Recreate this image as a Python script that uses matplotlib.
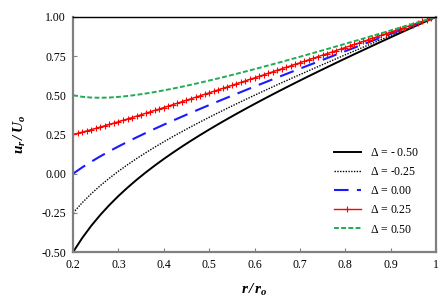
import matplotlib
matplotlib.use('Agg')
import matplotlib.pyplot as plt
import numpy as np

plt.rcParams['font.family'] = 'Liberation Serif'
plt.rcParams['mathtext.fontset'] = 'custom'
plt.rcParams['mathtext.rm'] = 'Liberation Serif'
plt.rcParams['mathtext.it'] = 'Liberation Serif:italic'
plt.rcParams['mathtext.bf'] = 'Liberation Serif:bold:italic'

# r/r_o sampling
r_coarse = np.round(np.arange(0.20, 1.001, 0.02), 2)
r_fine = np.round(np.arange(0.20, 1.001, 0.01), 2)

u_m050 = [-0.5000, -0.4108, -0.3326, -0.2630, -0.2000, -0.1424, -0.0891, -0.0393, 0.0074, 0.0516,
          0.0938, 0.1340, 0.1727, 0.2101, 0.2462, 0.2813, 0.3154, 0.3487, 0.3813, 0.4131,
          0.4444, 0.4752, 0.5055, 0.5353, 0.5647, 0.5938, 0.6225, 0.6508, 0.6789, 0.7068,
          0.7344, 0.7617, 0.7889, 0.8158, 0.8426, 0.8692, 0.8957, 0.9219, 0.9481, 0.9741, 1.0000]
u_m025 = [-0.2500, -0.1855, -0.1281, -0.0762, -0.0286, 0.0156, 0.0570, 0.0961, 0.1333, 0.1689,
          0.2031, 0.2362, 0.2682, 0.2993, 0.3297, 0.3594, 0.3885, 0.4170, 0.4451, 0.4727,
          0.5000, 0.5269, 0.5535, 0.5798, 0.6059, 0.6317, 0.6573, 0.6827, 0.7079, 0.7329,
          0.7578, 0.7825, 0.8071, 0.8316, 0.8560, 0.8802, 0.9044, 0.9284, 0.9523, 0.9762, 1.0000]
u_000 = [0.0000, 0.0398, 0.0764, 0.1106, 0.1429, 0.1736, 0.2031, 0.2316, 0.2593, 0.2862,
         0.3125, 0.3383, 0.3636, 0.3886, 0.4132, 0.4375, 0.4615, 0.4853, 0.5089, 0.5323,
         0.5556, 0.5786, 0.6016, 0.6244, 0.6471, 0.6696, 0.6921, 0.7145, 0.7368, 0.7591,
         0.7813, 0.8034, 0.8254, 0.8474, 0.8693, 0.8912, 0.9130, 0.9348, 0.9566, 0.9783, 1.0000]
u_p025 = [0.2500, 0.2574, 0.2651, 0.2729, 0.2809, 0.2891, 0.2974, 0.3058, 0.3143, 0.3229,
          0.3316, 0.3404, 0.3492, 0.3581, 0.3671, 0.3761, 0.3852, 0.3943, 0.4035, 0.4126,
          0.4219, 0.4311, 0.4404, 0.4497, 0.4591, 0.4685, 0.4779, 0.4873, 0.4967, 0.5062,
          0.5156, 0.5251, 0.5346, 0.5441, 0.5537, 0.5632, 0.5728, 0.5823, 0.5919, 0.6015,
          0.6111, 0.6207, 0.6303, 0.6400, 0.6496, 0.6593, 0.6689, 0.6786, 0.6882, 0.6979,
          0.7076, 0.7173, 0.7270, 0.7367, 0.7464, 0.7561, 0.7658, 0.7755, 0.7852, 0.7950,
          0.8047, 0.8144, 0.8242, 0.8339, 0.8437, 0.8534, 0.8632, 0.8729, 0.8827, 0.8924,
          0.9022, 0.9120, 0.9217, 0.9315, 0.9413, 0.9511, 0.9609, 0.9706, 0.9804, 0.9902, 1.0000]
u_p050 = [0.5000, 0.4903, 0.4854, 0.4841, 0.4857, 0.4896, 0.4953, 0.5026, 0.5111, 0.5207,
          0.5313, 0.5426, 0.5545, 0.5671, 0.5802, 0.5938, 0.6077, 0.6220, 0.6366, 0.6515,
          0.6667, 0.6821, 0.6977, 0.7134, 0.7294, 0.7455, 0.7618, 0.7782, 0.7947, 0.8114,
          0.8281, 0.8450, 0.8619, 0.8789, 0.8960, 0.9132, 0.9304, 0.9477, 0.9651, 0.9825, 1.0000]

labels = ['$\\mathit{Δ}$ = - 0.50', '$\\mathit{Δ}$ = -0.25', '$\\mathit{Δ}$ = 0.00',
          '$\\mathit{Δ}$ = 0.25', '$\\mathit{Δ}$ = 0.50']

fig = plt.figure(figsize=(4.43, 3.07), dpi=100)
ax = fig.add_axes([0.165, 0.179, 0.819, 0.766])

ax.plot(r_coarse, u_m050, color='black', lw=1.4, label=labels[0])
ax.plot(r_coarse, u_m025, color='black', lw=1.0, ls=(0, (1, 1)), label=labels[1])
ax.plot(r_coarse, u_000, color='#1a1aff', lw=1.5, ls=(0, (7, 4)), label=labels[2])
ax.plot(r_fine, u_p025, color='red', lw=1.0, marker='+', ms=5, mew=0.8, label=labels[3])
ax.plot(r_coarse, u_p050, color='#22aa55', lw=1.4, ls=(0, (2.5, 1.2)), label=labels[4])

ax.set_xlim(0.2, 1.0)
ax.set_ylim(-0.5, 1.0)
ax.set_xticks([0.2, 0.3, 0.4, 0.5, 0.6, 0.7, 0.8, 0.9, 1.0])
ax.set_xticklabels(['0.2', '0.3', '0.4', '0.5', '0.6', '0.7', '0.8', '0.9', '1'])
ax.set_yticks([-0.5, -0.25, 0, 0.25, 0.5, 0.75, 1.0])
ax.set_yticklabels(['-0.50', '-0.25', '0.00', '0.25', '0.50', '0.75', '1.00'])
ax.tick_params(direction='in', length=3, width=0.8, color='#808080', labelsize=8.5, pad=5)

for side in ['left', 'bottom', 'right']:
    ax.spines[side].set_color('#808080')
    ax.spines[side].set_linewidth(1.6)
ax.spines['top'].set_color('black')
ax.spines['top'].set_linewidth(1.0)

ax.set_xlabel(r'$\mathbf{r\,/\,r_o}$', fontsize=11, labelpad=8)
ax.set_ylabel(r'$\mathbf{u_r\,/\,U_o}$', fontsize=11, labelpad=10)

ax.legend(loc='lower right', frameon=False, fontsize=8.5, handlelength=2.3,
          labelspacing=0.6, borderaxespad=1.0, handletextpad=0.8)

fig.savefig('out.png', dpi=100)
